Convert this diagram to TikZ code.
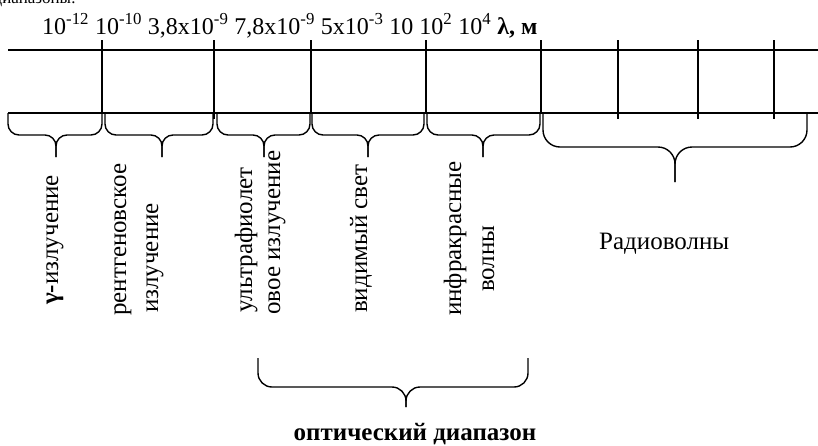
\documentclass[tikz,border=0pt]{standalone}
\usepackage{fontspec}
\setmainfont{Liberation Serif}
\newcommand\curlybr[7]{% x1, x2, xtip, ytop, yflat, ytip, r
  \draw[brc, rounded corners=#7pt] (#1,#4) -- (#1,#5) -- (#3,#5) -- (#3,#6);
  \draw[brc, rounded corners=#7pt] (#2,#4) -- (#2,#5) -- (#3,#5) -- (#3,#6);
}
\begin{document}
\begin{tikzpicture}[x=1pt,y=-1pt,
  ln/.style={line width=1.4pt},
  brc/.style={line width=1.4pt, line join=round},
  lab/.style={inner sep=0pt, font=\fontsize{25}{30}\selectfont},
  vlab/.style={lab, rotate=90, anchor=base west},
]
\useasboundingbox (0,0) rectangle (818,445);

% cut-off heading line
\node[inner sep=0pt, font=\fontsize{17}{20}\selectfont, anchor=base east] (head) at (76,3) {диапазоны:};

% scale values
\node[lab, anchor=base west, font=\fontsize{24}{29}\selectfont] (scale) at (42,34) {10\textsuperscript{-12} 10\textsuperscript{-10} 3,8x10\textsuperscript{-9} 7,8x10\textsuperscript{-9} 5x10\textsuperscript{-3} 10 10\textsuperscript{2} 10\textsuperscript{4} \textbf{λ, м}};

% axis lines
\draw[ln] (8,50) -- (818,50);
\draw[ln] (8,113) -- (818,113);
\foreach \x in {102,311,426,541} \draw[ln] (\x,40) -- (\x,113);
\foreach \x in {214,618,698,774} \draw[ln] (\x,40) -- (\x,119);

% braces
\curlybr{8}{102}{56}{113}{135}{157}{11}
\curlybr{105}{213}{162}{113}{135}{157}{11}
\curlybr{217}{310}{264}{113}{135}{157}{11}
\curlybr{312}{424}{368}{113}{135}{157}{11}
\curlybr{427}{540}{483}{113}{135}{157}{11}
\curlybr{543}{807}{675}{113}{147}{182}{17}
\curlybr{258}{528}{406}{358}{387}{407}{14}

% labels
\node[vlab] (gamma) at (58,305) {\textbf{γ-}излучение};
\node[vlab] (xray1) at (126,316) {рентгеновское};
\node[vlab] (xray2) at (158,313) {излучение};
\node[vlab] (uv1) at (252,313) {ультрафиолет};
\node[vlab] (uv2) at (280,315) {овое излучение};
\node[vlab] (vis) at (367,313) {видимый свет};
\node[vlab] (ir1) at (461,316) {инфракрасные};
\node[vlab] (ir2) at (494,292) {волны};
\node[lab, anchor=base west] (radio) at (599,249) {Радиоволны};
\node[lab, anchor=base, font=\fontsize{25}{30}\selectfont\bfseries] (opt) at (415,440) {оптический диапазон};
\end{tikzpicture}
\end{document}
